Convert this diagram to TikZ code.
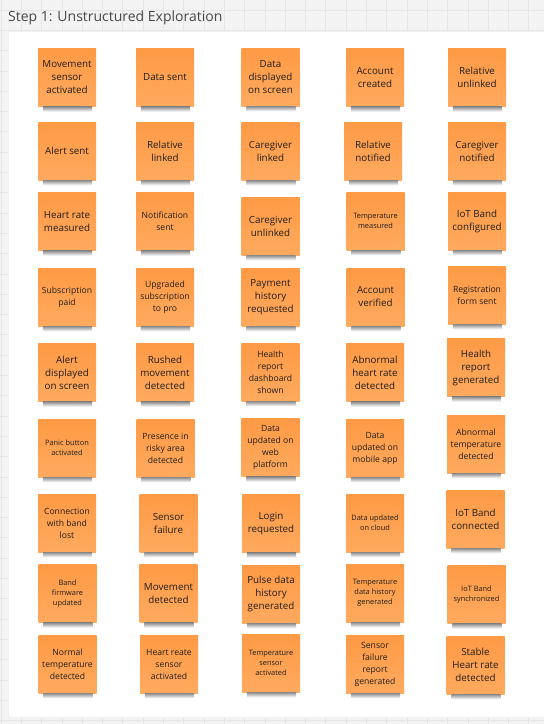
\documentclass[tikz,border=0pt]{standalone}
\usepackage{fontspec}
\setmainfont{Open Sans}

\definecolor{stickytop}{HTML}{FF9A45}
\definecolor{stickybot}{HTML}{FFAA5F}
\definecolor{canvasbg}{HTML}{F3F3F3}
\definecolor{gridln}{HTML}{E6E6E6}
\definecolor{inkc}{HTML}{1E1E1E}

\begin{document}
\begin{tikzpicture}[x=1pt,y=-1pt,
    sticky/.style={minimum width=58pt,minimum height=58pt,inner sep=1pt,align=center,
        top color=stickytop,bottom color=stickybot,text=inkc},
    lg/.style={sticky,font=\fontsize{9.8}{13}\selectfont},
    md/.style={sticky,font=\fontsize{8.6}{12}\selectfont},
    sm/.style={sticky,font=\fontsize{7.4}{10}\selectfont},
    stickyshadow/.style={top color=black!45,bottom color=white}]
                \useasboundingbox (0,0) rectangle (544,724);
                % board background
                \fill[canvasbg] (0,0) rectangle (544,724);
                \foreach \i in {0,...,26} \draw[gridln,line width=.8pt] ({1+20.3*\i},0) -- ({1+20.3*\i},724);
                \foreach \j in {0,...,36} \draw[gridln,line width=.8pt] (0,{-10.3+20.3*\j}) -- (544,{-10.3+20.3*\j});
                \fill[white,draw=black!6] (8,31) rectangle (548,717);
                \node[anchor=base west,inner sep=0,font=\fontsize{14}{16}\selectfont,text=black!72](title)at(8,21){Step 1: Unstructured Exploration};
                % row 1
                \node[lg](n11)at(67, 77.5){Movement\\sensor\\activated};
                \node[lg](n12)at(165, 77.5){Data sent};
                \node[lg](n13)at(270.5, 77){Data\\displayed\\on screen};
                \node[lg](n14)at(375, 77.5){Account\\created};
                \node[lg](n15)at(477, 77.5){Relative\\unlinked};
                % row 2
                \node[lg](n21)at(67, 151){Alert sent};
                \node[lg](n22)at(165, 151){Relative\\linked};
                \node[lg](n23)at(270.5, 151){Caregiver\\linked};
                \node[lg](n24)at(373, 151){Relative\\notified};
                \node[lg](n25)at(477, 151){Caregiver\\notified};
                % row 3
                \node[lg](n31)at(67, 221.5){Heart rate\\measured};
                \node[md](n32)at(165, 221.5){Notification\\sent};
                \node[lg](n33)at(270.5, 226){Caregiver\\unlinked};
                \node[sm](n34)at(375.5, 221){Temperature\\measured};
                \node[lg](n35)at(477, 221){IoT Band\\configured};
                % row 4
                \node[md](n41)at(67, 297){Subscription\\paid};
                \node[md](n42)at(165, 297){Upgraded\\subscription\\to pro};
                \node[lg](n43)at(270.5, 297){Payment\\history\\requested};
                \node[lg](n44)at(375.5, 297){Account\\verified};
                \node[md](n45)at(477, 295){Registration\\form sent};
                % row 5
                \node[lg](n51)at(67, 372.5){Alert\\displayed\\on screen};
                \node[lg](n52)at(165, 372.5){Rushed\\movement\\detected};
                \node[md](n53)at(270.5, 372){Health\\report\\dashboard\\shown};
                \node[lg](n54)at(375, 372.5){Abnormal\\heart rate\\detected};
                \node[lg](n55)at(476, 367.5){Health\\report\\generated};
                % row 6
                \node[sm](n61)at(67, 448){Panic button\\activated};
                \node[md](n62)at(165.5, 448){Presence in\\risky area\\detected};
                \node[md](n63)at(270.5, 447.5){Data\\updated on\\web\\platform};
                \node[md](n64)at(375, 448){Data\\updated on\\mobile app};
                \node[md](n65)at(476, 444){Abnormal\\temperature\\detected};
                % row 7
                \node[md](n71)at(67, 523){Connection\\with band\\lost};
                \node[lg](n72)at(168.5, 523){Sensor\\failure};
                \node[lg](n73)at(271, 523.5){Login\\requested};
                \node[sm](n74)at(375, 523){Data updated\\on cloud};
                \node[lg](n75)at(475.5, 519){IoT Band\\connected};
                % row 8
                \node[sm](n81)at(67.5, 593.5){Band\\firmware\\updated};
                \node[lg](n82)at(168.5, 593.5){Movement\\detected};
                \node[lg](n83)at(271, 594){Pulse data\\history\\generated};
                \node[sm](n84)at(375, 593){Temperature\\data history\\generated};
                \node[sm](n85)at(476.5, 594.5){IoT Band\\synchronized};
                % row 9
                \node[md](n91)at(67.5, 664){Normal\\temperature\\detected};
                \node[md](n92)at(169, 664){Heart reate\\sensor\\activated};
                \node[sm](n93)at(271, 663){Temperature\\sensor\\activated};
                \node[md](n94)at(375, 664){Sensor\\failure\\report\\generated};
                \node[lg](n95)at(475.5, 665){Stable\\Heart rate\\detected};
                % shadows under the notes
                \foreach \r in {1,...,9}
                    \foreach \c in {1,...,5}
                        \shade[stickyshadow] ([xshift=5pt]n\r\c.south west) rectangle ([xshift=-4pt,yshift=-5pt]n\r\c.south east);
            \end{tikzpicture}
\end{document}
